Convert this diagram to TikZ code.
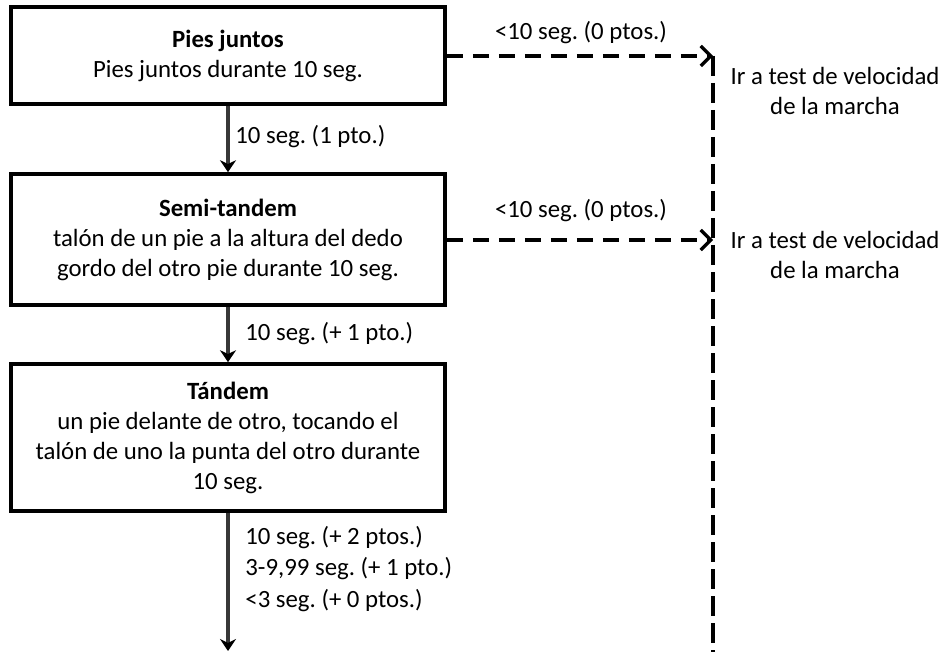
\documentclass[tikz,border=0pt]{standalone}
\usepackage{fontspec}
\setmainfont{Carlito}
\usetikzlibrary{arrows.meta,positioning}
\frenchspacing

\begin{document}
\begin{tikzpicture}[x=0.5pt,y=-0.5pt,font=\fontsize{12.4}{15}\selectfont,
  box/.style={draw=black,line width=1.8pt,align=center,minimum width=217pt,inner sep=0pt},
  arr/.style={-{Stealth[length=6pt,width=8pt,black]},line width=1.6pt,draw=black!78},
  darr/.style={-{Straight Barb[length=5pt,width=10pt]},line width=1.6pt,dash pattern=on 8pt off 5pt},
  vline/.style={line width=1.6pt,dash pattern=on 10pt off 3.5pt},
  lbl/.style={align=left,anchor=west,inner sep=0pt},
  note/.style={align=center,inner sep=0pt}]
\useasboundingbox (0,0) rectangle (947,652);
\node[box,minimum height=48.5pt] (pies) at (228,55.5) {\textbf{Pies juntos}\\Pies juntos durante 10 seg.};
\node[box,minimum height=65.5pt] (semi) at (228,239.5) {\textbf{Semi-tandem}\\talón de un pie a la altura del dedo\\gordo del otro pie durante 10 seg.};
\node[box,minimum height=73.5pt] (tand) at (228,437.5) {\textbf{Tándem}\\un pie delante de otro, tocando el\\talón de uno la punta del otro durante\\10 seg.};
\coordinate (fin) at (228,651);
\coordinate (j1) at (713,56);
\coordinate (j2) at (713,240);
\coordinate (jend) at (713,652);
% flechas verticales
\draw[arr] (pies) -- (semi);
\draw[arr] (semi) -- (tand);
\draw[arr] (tand) -- (fin);
\node[lbl] (l1) at (235,137) {10 seg. (1 pto.)};
\node[lbl] (l2) at (245,334) {10 seg. (+ 1 pto.)};
\node[lbl,font=\fontsize{12.4}{15.8}\selectfont] (l3) at (245,569) {10 seg. (+ 2 ptos.)\\3-9,99 seg. (+ 1 pto.)\\<3 seg. (+ 0 ptos.)};
% salidas al test de marcha
\draw[darr] (pies.east |- j1) -- (j1);
\draw[darr] (semi.east |- j2) -- (j2);
\draw[vline] (j1) -- (jend);
\node[note] (c1) at (581,33) {<10 seg. (0 ptos.)};
\node[note] (c2) at (581,211) {<10 seg. (0 ptos.)};
\node[note] (m1) at (835,91) {Ir a test de velocidad\\de la marcha};
\node[note] (m2) at (835,255) {Ir a test de velocidad\\de la marcha};
\end{tikzpicture}
\end{document}
